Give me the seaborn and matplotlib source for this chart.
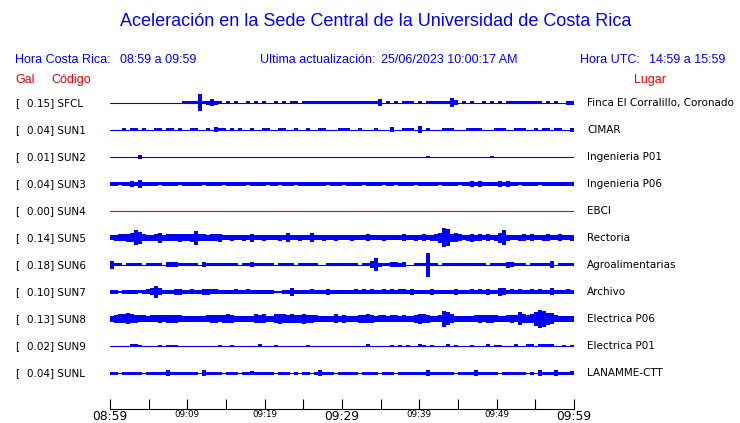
import numpy as np
import pandas as pd
import matplotlib.pyplot as plt
import seaborn as sns

title = "Aceleración en la Sede Central de la Universidad de Costa Rica"
hora_cr = "08:59 a 09:59"
hora_utc = "14:59 a 15:59"
actualizacion = "25/06/2023 10:00:17 AM"

codes = ["SFCL", "SUN1", "SUN2", "SUN3", "SUN4", "SUN5",
         "SUN6", "SUN7", "SUN8", "SUN9", "SUNL"]
places = ["Finca El Corralillo, Coronado", "CIMAR", "Ingenieria P01",
          "Ingenieria P06", "EBCI", "Rectoria", "Agroalimentarias",
          "Archivo", "Electrica P06", "Electrica P01", "LANAMME-CTT"]
peak_gal = [0.15, 0.04, 0.01, 0.04, 0.00, 0.14, 0.18, 0.10, 0.13, 0.02, 0.04]

# envelope of each trace: peak-to-peak height (1/27 of the trace spacing),
# one base-36 character per ~31 s of the hour shown
env = [
    "000000000000000000" "3333" "h" "34" "7" "4303" "030030303003030330"
    "3333333333" "33333333" "37" "03030" "333" "0303" "33333" "95"
    "0303003030303" "33333333" "030300" "44",
    "0003033030" "0330330300" "3300305330" "3030030033" "0033003003"
    "0033000333" "0030003000" "5003330703" "0003330003" "3330003330"
    "0333003033" "033004",
    "0000000400" "0000000000" "0000000000" "0000000000" "0000000000"
    "0000000000" "0000000000" "0000000002" "0000000000" "0000020000"
    "0000000000" "000000",
    "4434464844" "4434444344" "4443444434" "4444344443" "4434443444"
    "4444344434" "4443444434" "4344443444" "4434444344" "6464444646"
    "4434444344" "444444",
    "0" * 116,
    "567789fc76" "67a6777877" "8e77677855" "6556585565" "5565955655"
    "9556556555" "6555755565" "5557556575" "67ajh89756" "8675756af6"
    "5567575567" "557556",
    "8330333303" "3330555333" "3305333333" "3303353333" "3033330333"
    "3300333333" "330337d433" "554500333o" "3303333333" "3333033336"
    "5333033333" "703333",
    "4424444345" "7c74446644" "5446655444" "4544544444" "4224484444"
    "5444644444" "4545454454" "5455464444" "6444446444" "5454644874"
    "5454454544" "744454",
    "6899b98776" "7787888765" "6565788789" "8665669896" "69a98988a8"
    "8766569686" "5688986776" "7767568a98" "667fd96656" "6787887667"
    "87d989eifc" "b76666",
    "0000033200" "0020222000" "0000000200" "2000000300" "0200000002"
    "0000000000" "0000300000" "2020200320" "2000302000" "2000302200"
    "0300330333" "300202",
    "3303333303" "3333533333" "3305333303" "3303343333" "3033303033"
    "0353330333" "3303333033" "3033333336" "3333330333" "3533333033"
    "3333030533" "353334",
]

tick_minutes = np.arange(0, 61, 5)
tick_labels = ["08:59", "", "09:09", "", "09:19", "", "09:29",
               "", "09:39", "", "09:49", "", "09:59"]
big_labels = ["08:59", "09:29", "09:59"]

sns.set_theme(style="white")
plt.rcParams['font.family'] = ['DejaVu Sans']

W, H = 740, 423
BLUE, RED = "#0000ff", "#ee0000"
fig = plt.figure(figsize=(W / 100, H / 100), dpi=100)
ax = fig.add_axes([110 / W, (H - 409) / H, 464 / W, (409 - 88) / H])

colors = {c: (RED if g == 0 else BLUE) for c, g in zip(codes, peak_gal)}

# baselines
df = pd.DataFrame([(c, t, -k) for k, c in enumerate(codes) for t in (0, 60)],
                  columns=["code", "t", "y"])
sns.lineplot(data=df, x="t", y="y", hue="code", palette=colors,
             estimator=None, legend=False, linewidth=0.8, ax=ax)

# waveform envelopes
for k, (c, s) in enumerate(zip(codes, env)):
    v = np.array([int(ch, 36) for ch in s], float) / 2 / 27
    edges = np.linspace(0, 60, len(v) + 1)
    hv = np.append(v, v[-1])
    ax.fill_between(edges, -k - hv, -k + hv, step="post",
                    color=colors[c], lw=0)

ax.set_xlim(0, 60)
ax.set_ylim(-(409 - 103) / 27, (103 - 88) / 27)
ax.set_xlabel("")
ax.set_ylabel("")
ax.set_yticks([])
ax.set_xticks(tick_minutes, tick_labels)
ax.tick_params(axis="x", bottom=True, direction="in", length=7.2,
               width=0.8, color="black", pad=0.8, labelcolor="black")
for lab in ax.get_xticklabels():
    lab.set_fontsize(8.8 if lab.get_text() in big_labels else 6.3)
for sp in ["top", "left", "right"]:
    ax.spines[sp].set_visible(False)
ax.spines["bottom"].set_color("black")
ax.spines["bottom"].set_linewidth(0.8)
ax.set_facecolor("none")


def put(x, y, s, **kw):
    fig.text(x / W, 1 - y / H, s, va="center", **kw)


hdr = dict(fontsize=9, color=BLUE, family=["Liberation Sans", "DejaVu Sans"])
put(376, 22, title, ha="center", fontsize=13, color=BLUE,
    family=["Liberation Sans", "DejaVu Sans"])
put(15, 60, "Hora Costa Rica:", **hdr)
put(120, 60, hora_cr, **hdr)
put(260, 60, "Ultima actualización:", **hdr)
put(381, 60, actualizacion, **hdr)
put(580, 60, "Hora UTC:", **hdr)
put(725, 60, hora_utc, ha="right", **hdr)
red = dict(fontsize=9, color=RED, family=["Liberation Sans", "DejaVu Sans"])
put(15, 80, "Gal", **red)
put(51, 80, "Código", **red)
put(634, 80, "Lugar", **red)

for k, (c, p, g) in enumerate(zip(codes, places, peak_gal)):
    y = 103 + 27 * k
    put(15, y, "[", fontsize=7.5, color="black")
    put(27, y, f"{g:.2f}] {c}", fontsize=7.5, color="black")
    put(587, y, p, fontsize=7.5, color="black")

fig.savefig("out.png", dpi=100, facecolor="white")
